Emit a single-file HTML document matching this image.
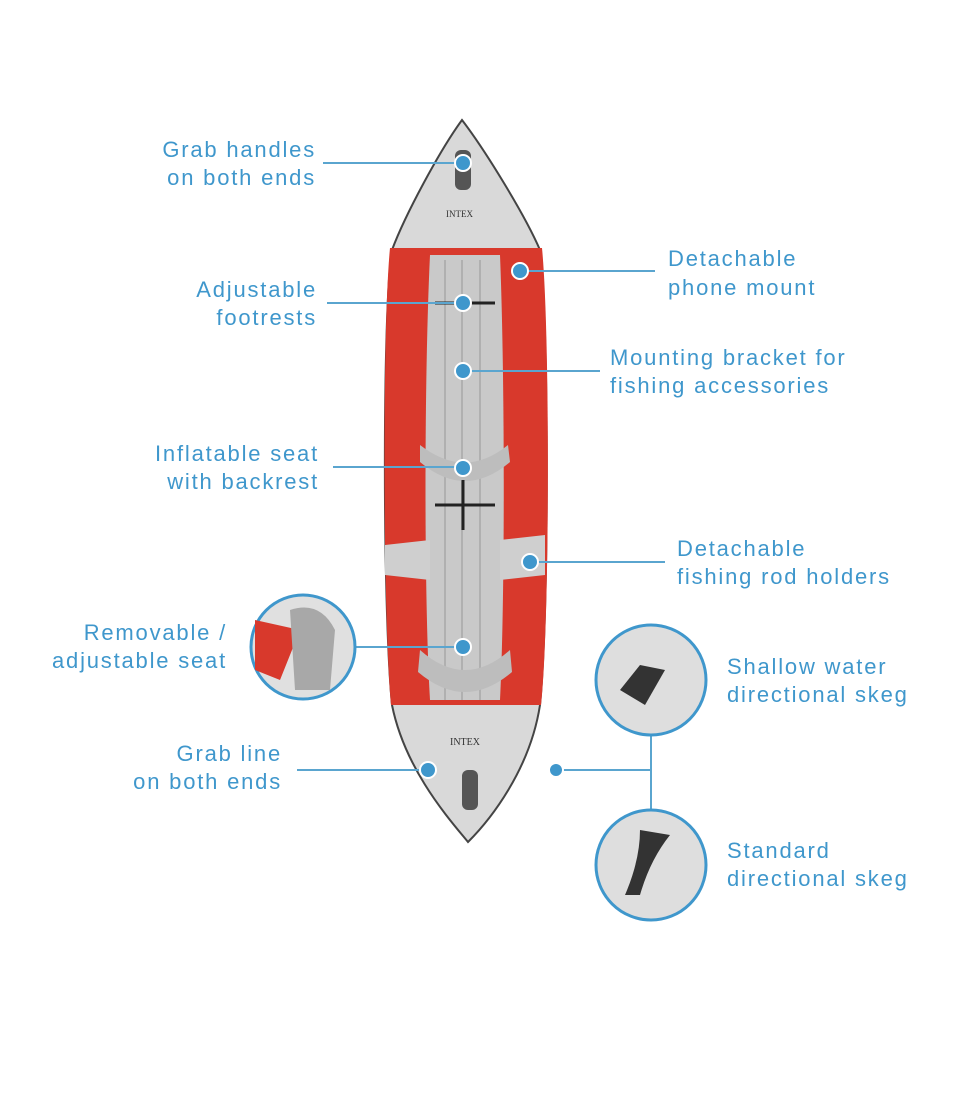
<!DOCTYPE html>
<html><head><meta charset="utf-8"><style>
body{margin:0;background:#fff;}
svg text{font-family:"Liberation Sans",sans-serif;font-size:22px;fill:#3f97cc;letter-spacing:1.8px}
</style></head><body>
<svg width="960" height="1092" viewBox="0 0 960 1092" xmlns="http://www.w3.org/2000/svg">
<rect width="960" height="1092" fill="#fff"/>
<path d="M462,120 C440,150 405,215 392,250 C383,300 382,600 392,705 C405,770 450,820 468,842 C490,820 530,770 540,705 C550,600 548,300 540,250 C525,215 485,150 462,120 Z" fill="#d9d9d9" stroke="#444" stroke-width="2"/>
<path d="M390,248 L542,248 C550,330 550,620 541,705 L391,705 C383,620 382,330 390,248Z" fill="#d8392c"/>
<path d="M430,255 L500,255 C505,380 505,600 500,700 L430,700 C424,600 424,380 430,255Z" fill="#c9c9c9"/>
<g stroke="#b0b0b0" stroke-width="2"><line x1="445" y1="260" x2="445" y2="700"/><line x1="462" y1="260" x2="462" y2="700"/><line x1="480" y1="260" x2="480" y2="700"/></g>
<path d="M420,445 Q465,480 508,445 L510,462 Q465,500 420,462Z" fill="#bdbdbd"/>
<path d="M420,650 Q465,690 510,650 L512,672 Q465,712 418,672Z" fill="#bdbdbd"/>
<path d="M385,545 L430,540 L430,580 L385,575Z" fill="#cfcfcf"/>
<path d="M500,540 L545,535 L545,575 L500,580Z" fill="#cfcfcf"/>
<rect x="455" y="150" width="16" height="40" rx="6" fill="#555"/>
<rect x="462" y="770" width="16" height="40" rx="6" fill="#555"/>
<g stroke="#222" stroke-width="3"><line x1="435" y1="303" x2="495" y2="303"/><line x1="435" y1="505" x2="495" y2="505"/><line x1="463" y1="480" x2="463" y2="530"/></g>
<text x="446" y="217" style="font-size:9px;fill:#333;letter-spacing:0;font-family:'Liberation Serif',serif">INTEX</text>
<text x="450" y="745" style="font-size:10px;fill:#333;letter-spacing:0;font-family:'Liberation Serif',serif">INTEX</text>
<g stroke="#5aa5cf" stroke-width="2" fill="none">
<line x1="323" y1="163" x2="463" y2="163"/>
<line x1="327" y1="303" x2="463" y2="303"/>
<line x1="333" y1="467" x2="463" y2="467"/>
<line x1="355" y1="647" x2="463" y2="647"/>
<line x1="297" y1="770" x2="428" y2="770"/>
<line x1="520" y1="271" x2="655" y2="271"/>
<line x1="463" y1="371" x2="600" y2="371"/>
<line x1="530" y1="562" x2="665" y2="562"/>
<line x1="556" y1="770" x2="651" y2="770"/>
<line x1="651" y1="735" x2="651" y2="810"/>
</g>
<g fill="#3f97cc" stroke="#fff" stroke-width="2">
<circle cx="463" cy="163" r="8"/><circle cx="520" cy="271" r="8"/><circle cx="463" cy="303" r="8"/>
<circle cx="463" cy="371" r="8"/><circle cx="463" cy="468" r="8"/><circle cx="530" cy="562" r="8"/>
<circle cx="463" cy="647" r="8"/><circle cx="428" cy="770" r="8"/><circle cx="556" cy="770" r="7"/>
</g>
<g stroke="#3f97cc" stroke-width="3">
<circle cx="303" cy="647" r="52" fill="#e0e0e0"/>
<circle cx="651" cy="680" r="55" fill="#dedede"/>
<circle cx="651" cy="865" r="55" fill="#dedede"/>
</g>
<path d="M255,620 L300,630 L280,680 L255,670Z" fill="#d8392c"/>
<path d="M290,610 Q320,600 335,630 L330,690 L295,690Z" fill="#a8a8a8"/>
<path d="M620,690 L640,665 L665,670 L645,705Z" fill="#333"/>
<path d="M640,830 L670,835 Q650,860 640,895 L625,895 Q640,860 640,830Z" fill="#333"/>
<g text-anchor="end">
<text x="316" y="157">Grab handles</text><text x="316" y="185">on both ends</text>
<text x="317" y="297">Adjustable</text><text x="317" y="325">footrests</text>
<text x="319" y="461">Inflatable seat</text><text x="319" y="489">with backrest</text>
<text x="227" y="640">Removable /</text><text x="227" y="668">adjustable seat</text>
<text x="282" y="761">Grab line</text><text x="282" y="789">on both ends</text>
</g>
<text x="668" y="266">Detachable</text><text x="668" y="295">phone mount</text>
<text x="610" y="365">Mounting bracket for</text><text x="610" y="393">fishing accessories</text>
<text x="677" y="556">Detachable</text><text x="677" y="584">fishing rod holders</text>
<text x="727" y="674">Shallow water</text><text x="727" y="702">directional skeg</text>
<text x="727" y="858">Standard</text><text x="727" y="886">directional skeg</text>
</svg>
</body></html>
